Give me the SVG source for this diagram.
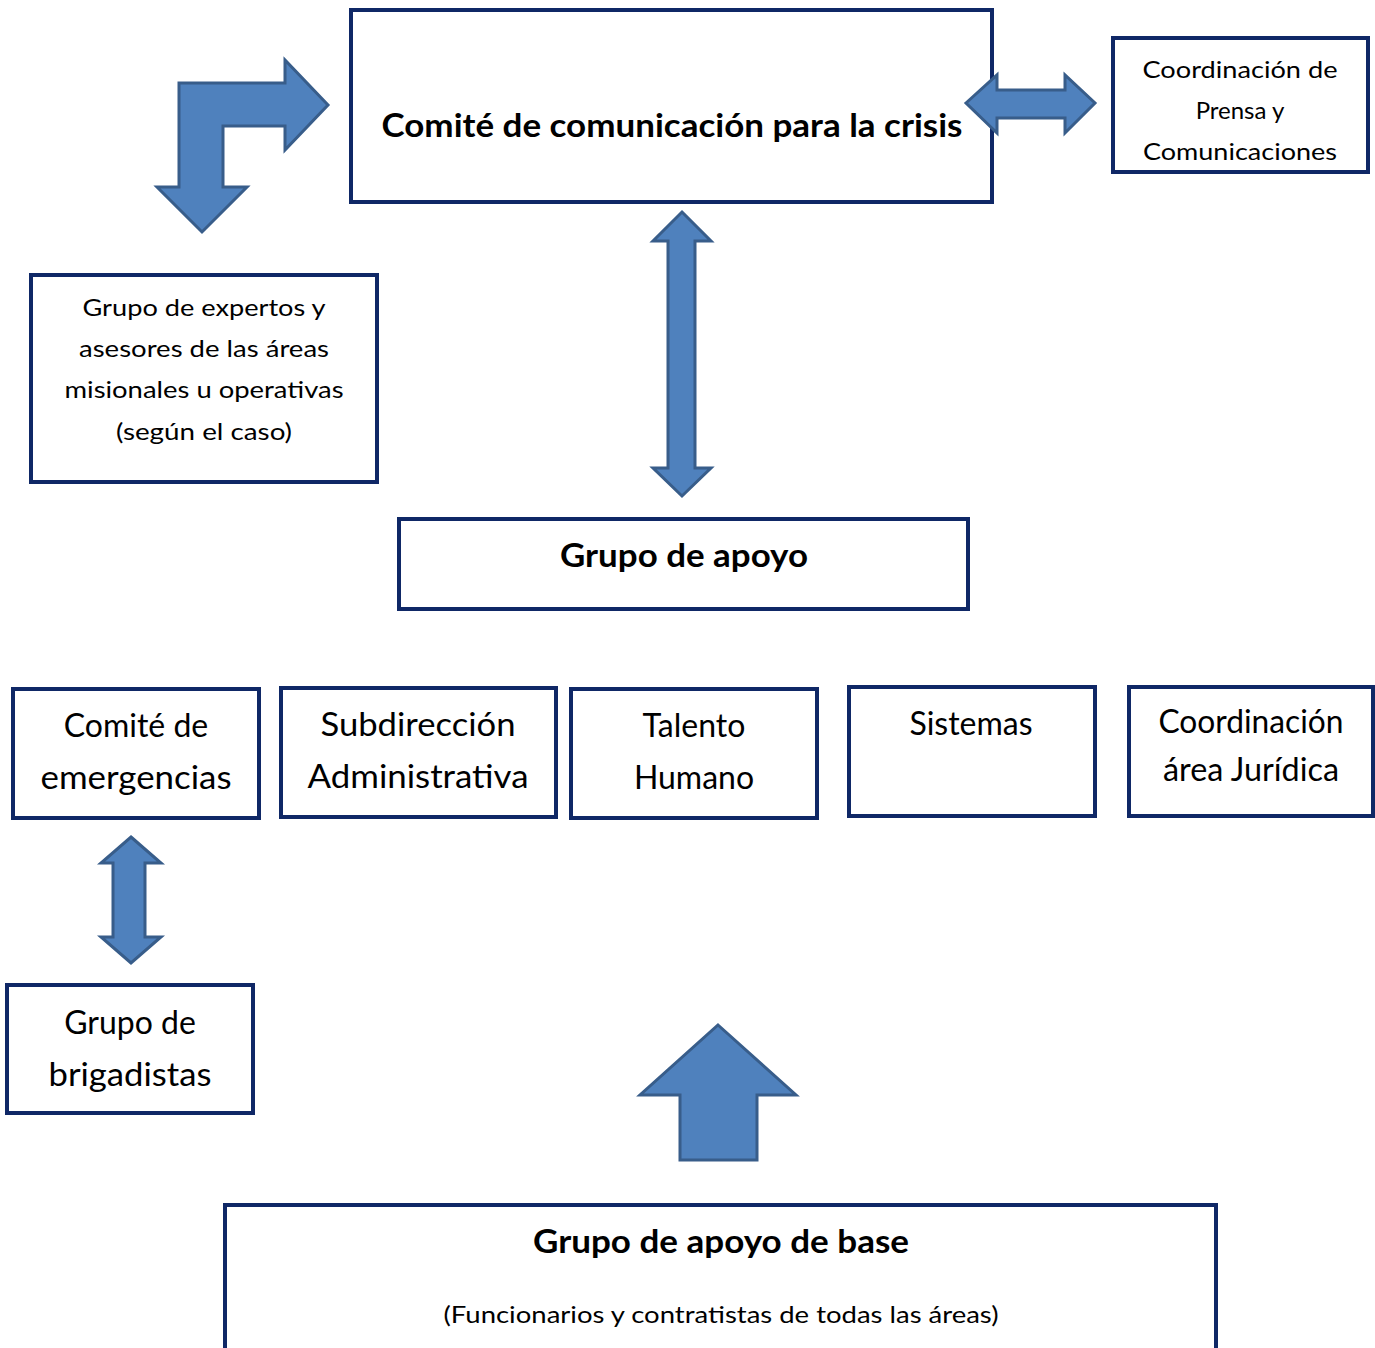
<svg xmlns="http://www.w3.org/2000/svg" width="1375" height="1348" viewBox="0 0 1375 1348">
<style>
.box{fill:#fff;stroke:#0f2866;stroke-width:4}
.arr{fill:#4f81bd;stroke:#385d8a;stroke-width:3;stroke-linejoin:miter}
text{font-family:Lato,"Open Sans","Liberation Sans",sans-serif;fill:#000;text-anchor:middle}
.b{font-weight:bold;font-size:32px}
.s{font-size:24px}
.m{font-size:32px}
</style>
<rect width="1375" height="1348" fill="#fff"/>
<g id="comite-comunicacion">
<rect class="box" x="351" y="10" width="641" height="192"/>
<text class="b" x="672" y="137" textLength="581" lengthAdjust="spacingAndGlyphs">Comité de comunicación para la crisis</text>
</g>
<g id="coordinacion-prensa">
<rect class="box" x="1113" y="38" width="255" height="134"/>
<text class="s" x="1240" y="78" textLength="195" lengthAdjust="spacingAndGlyphs">Coordinación de</text>
<text class="s" x="1240" y="119">Prensa y</text>
<text class="s" x="1240" y="160" textLength="194" lengthAdjust="spacingAndGlyphs">Comunicaciones</text>
</g>
<g id="grupo-expertos">
<rect class="box" x="31" y="275" width="346" height="207"/>
<text class="s" x="204" y="316" textLength="243" lengthAdjust="spacingAndGlyphs">Grupo de expertos y</text>
<text class="s" x="204" y="357" textLength="250" lengthAdjust="spacingAndGlyphs">asesores de las áreas</text>
<text class="s" x="204" y="398" textLength="279" lengthAdjust="spacingAndGlyphs">misionales u operativas</text>
<text class="s" x="204" y="440" textLength="176" lengthAdjust="spacingAndGlyphs">(según el caso)</text>
</g>
<g id="grupo-apoyo">
<rect class="box" x="399" y="519" width="569" height="90"/>
<text class="b" x="684" y="567" textLength="248" lengthAdjust="spacingAndGlyphs">Grupo de apoyo</text>
</g>
<g id="comite-emergencias">
<rect class="box" x="13" y="689" width="246" height="129"/>
<text class="m" x="136" y="737">Comité de</text>
<text class="m" x="136" y="789" textLength="191" lengthAdjust="spacingAndGlyphs">emergencias</text>
</g>
<g id="subdireccion">
<rect class="box" x="281" y="688" width="275" height="129"/>
<text class="m" x="418" y="736" textLength="195" lengthAdjust="spacingAndGlyphs">Subdirección</text>
<text class="m" x="418" y="788" textLength="221" lengthAdjust="spacingAndGlyphs">Administrativa</text>
</g>
<g id="talento-humano">
<rect class="box" x="571" y="689" width="246" height="129"/>
<text class="m" x="694" y="737">Talento</text>
<text class="m" x="694" y="789">Humano</text>
</g>
<g id="sistemas">
<rect class="box" x="849" y="687" width="246" height="129"/>
<text class="m" x="971" y="735">Sistemas</text>
</g>
<g id="coordinacion-juridica">
<rect class="box" x="1129" y="687" width="244" height="129"/>
<text class="m" x="1251" y="733" textLength="185" lengthAdjust="spacingAndGlyphs">Coordinación</text>
<text class="m" x="1251" y="781" textLength="176" lengthAdjust="spacingAndGlyphs">área Jurídica</text>
</g>
<g id="grupo-brigadistas">
<rect class="box" x="7" y="985" width="246" height="128"/>
<text class="m" x="130" y="1034">Grupo de</text>
<text class="m" x="130" y="1086" textLength="163" lengthAdjust="spacingAndGlyphs">brigadistas</text>
</g>
<g id="grupo-apoyo-base">
<rect class="box" x="225" y="1205" width="991" height="160"/>
<text class="b" x="721" y="1253" textLength="376" lengthAdjust="spacingAndGlyphs">Grupo de apoyo de base</text>
<text class="s" x="721" y="1323" textLength="555" lengthAdjust="spacingAndGlyphs">(Funcionarios y contratistas de todas las áreas)</text>
</g>
<g id="connectors">
<polygon class="arr" points="179,83 285,83 285,60 328,105 285,150 285,126 223,126 223,187 247,187 202,232 157,187 179,187"/>
<polygon class="arr" points="966,103 997,75 997,90 1065,90 1065,75 1095,103 1065,133 1065,118 997,118 997,133"/>
<polygon class="arr" points="682,212 711,241 695,241 695,468 711,468 682,496 653,468 668,468 668,241 653,241"/>
<polygon class="arr" points="131,837 161,863 145,863 145,937 161,937 131,963 101,937 113,937 113,863 101,863"/>
<polygon class="arr" points="718,1025 796,1095 757,1095 757,1160 680,1160 680,1095 640,1095"/>
</g>
</svg>
